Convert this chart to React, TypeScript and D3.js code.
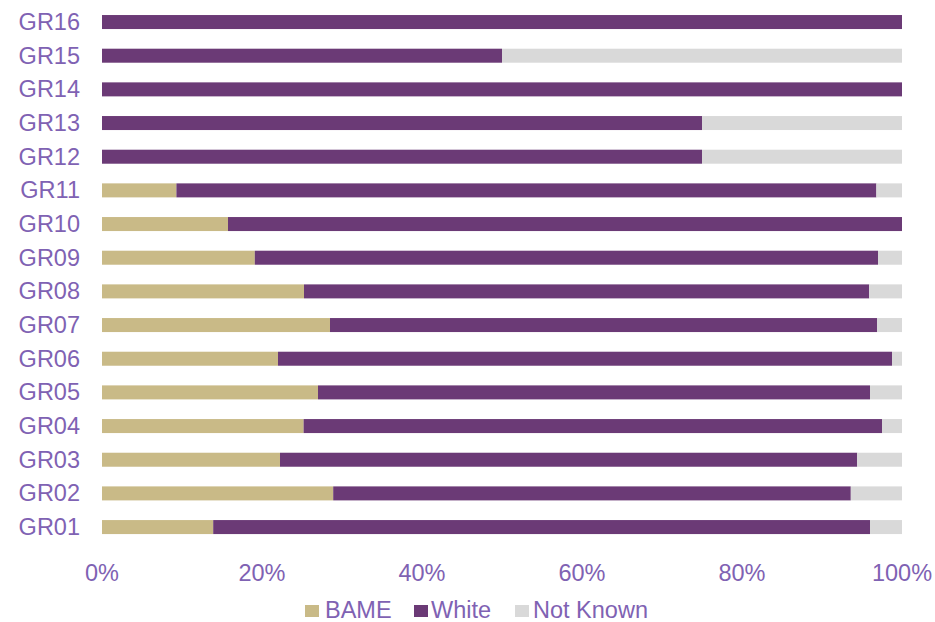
import React from "react";
import * as d3 from "d3";

const categories = ["GR01","GR02","GR03","GR04","GR05","GR06","GR07","GR08","GR09","GR10","GR11","GR12","GR13","GR14","GR15","GR16"];
const bame = [13.9, 28.9, 22.25, 25.2, 27.0, 22.0, 28.5, 25.25, 19.1, 15.75, 9.3, 0, 0, 0, 0, 0];
const white = [82.1, 64.7, 72.15, 72.3, 69.0, 76.75, 68.4, 70.65, 77.9, 84.25, 87.5, 75, 75, 100, 50, 100];
const notKnown = [4.0, 6.4, 5.6, 2.5, 4.0, 1.25, 3.1, 4.1, 3.0, 0, 3.2, 25, 25, 0, 50, 0];
const seriesNames = ["BAME", "White", "Not Known"];
const seriesColors = ["#C9BA87", "#6B3A76", "#D9D9D9"];
const xTicks = [0, 20, 40, 60, 80, 100];

const W = 935, H = 622;
const FONT = "'Liberation Sans', Arial, sans-serif";
const TEXT = "#7F62B3";

export default function App() {
  const rows = categories.map((c, i) => ({ cat: c, BAME: bame[i], White: white[i], "Not Known": notKnown[i] }));
  const stack = d3.stack<any>().keys(seriesNames);
  const layers = stack(rows);
  const x = d3.scaleLinear().domain([0, 100]).range([102, 902]);
  const y = d3.scaleBand<string>().domain([...categories].reverse()).range([5.2, 543.9]).paddingInner(0.584).paddingOuter(0.292);

  const legendItems = [
    { name: "BAME", sx: 305, tx: 325 },
    { name: "White", sx: 414, tx: 431 },
    { name: "Not Known", sx: 515, tx: 533 },
  ];

  return (
    <svg width={W} height={H} style={{ position: "absolute", left: 0, top: 0, background: "#fff" }} fontFamily={FONT}>
      {layers.map((layer, li) => (
        <g key={layer.key} fill={seriesColors[li]}>
          {layer.map((d: any) => {
            const w = x(d[1]) - x(d[0]);
            if (w <= 0) return null;
            return <rect key={d.data.cat} x={x(d[0])} y={y(d.data.cat)} width={w} height={y.bandwidth()} />;
          })}
        </g>
      ))}
      {categories.map((c) => (
        <text key={c} x={80} y={(y(c) as number) + y.bandwidth() / 2} textAnchor="end" dominantBaseline="central" fontSize={23.5} fill={TEXT}>{c}</text>
      ))}
      {xTicks.map((t) => (
        <text key={t} x={x(t)} y={581} textAnchor="middle" fontSize={23.5} fill={TEXT}>{t + "%"}</text>
      ))}
      {legendItems.map((it, i) => (
        <g key={it.name}>
          <rect x={it.sx} y={605} width={14} height={12} fill={seriesColors[i]} />
          <text x={it.tx} y={618} fontSize={23.5} fill={TEXT}>{it.name}</text>
        </g>
      ))}
    </svg>
  );
}
